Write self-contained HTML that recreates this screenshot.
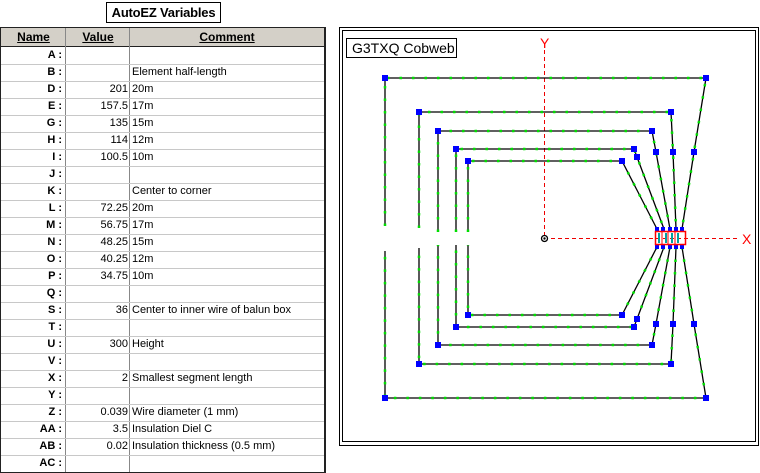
<!DOCTYPE html>
<html><head><meta charset="utf-8"><style>
body{margin:0;width:760px;height:473px;background:#fff;position:relative;overflow:hidden;font-family:"Liberation Sans",Arial,sans-serif;}
.title{position:absolute;left:106px;top:2px;width:113px;height:19px;border:1px solid #000;font-weight:bold;font-size:13px;text-align:center;line-height:19px;white-space:nowrap;letter-spacing:-0.2px;}
.tbl{position:absolute;left:0;top:27px;width:323px;height:444px;border:1px solid #222;border-width:1px 2px 1px 1px;}
.hdr{position:absolute;left:0;top:0;width:323px;height:18px;background:#d4d0c8;border-bottom:1px solid #222;font-weight:bold;font-size:12px;}
.hdr span{position:absolute;top:2px;text-decoration:underline;text-align:center;}
.row{position:absolute;left:0;width:323px;height:17px;border-bottom:1px solid #c8c8c8;font-size:11px;line-height:17px;}
.row .n{position:absolute;left:0;width:61px;text-align:right;font-weight:bold;}
.row .v{position:absolute;left:65px;width:62px;text-align:right;}
.row .c{position:absolute;left:131px;}
.vl{position:absolute;top:0;width:1px;height:444px;background:#888;}
</style></head><body>
<div class="title">AutoEZ Variables</div>
<div class="tbl">
<div class="hdr"><span style="left:0;width:65px">Name</span><span style="left:65px;width:64px">Value</span><span style="left:129px;width:194px">Comment</span></div>
<div class="vl" style="left:64px"></div><div class="vl" style="left:128px"></div>
<div class="row" style="top:19px"><span class="n">A :</span></div>
<div class="row" style="top:36px"><span class="n">B :</span><span class="c">Element half-length</span></div>
<div class="row" style="top:53px"><span class="n">D :</span><span class="v">201</span><span class="c">20m</span></div>
<div class="row" style="top:70px"><span class="n">E :</span><span class="v">157.5</span><span class="c">17m</span></div>
<div class="row" style="top:87px"><span class="n">G :</span><span class="v">135</span><span class="c">15m</span></div>
<div class="row" style="top:104px"><span class="n">H :</span><span class="v">114</span><span class="c">12m</span></div>
<div class="row" style="top:121px"><span class="n">I :</span><span class="v">100.5</span><span class="c">10m</span></div>
<div class="row" style="top:138px"><span class="n">J :</span></div>
<div class="row" style="top:155px"><span class="n">K :</span><span class="c">Center to corner</span></div>
<div class="row" style="top:172px"><span class="n">L :</span><span class="v">72.25</span><span class="c">20m</span></div>
<div class="row" style="top:189px"><span class="n">M :</span><span class="v">56.75</span><span class="c">17m</span></div>
<div class="row" style="top:206px"><span class="n">N :</span><span class="v">48.25</span><span class="c">15m</span></div>
<div class="row" style="top:223px"><span class="n">O :</span><span class="v">40.25</span><span class="c">12m</span></div>
<div class="row" style="top:240px"><span class="n">P :</span><span class="v">34.75</span><span class="c">10m</span></div>
<div class="row" style="top:257px"><span class="n">Q :</span></div>
<div class="row" style="top:274px"><span class="n">S :</span><span class="v">36</span><span class="c">Center to inner wire of balun box</span></div>
<div class="row" style="top:291px"><span class="n">T :</span></div>
<div class="row" style="top:308px"><span class="n">U :</span><span class="v">300</span><span class="c">Height</span></div>
<div class="row" style="top:325px"><span class="n">V :</span></div>
<div class="row" style="top:342px"><span class="n">X :</span><span class="v">2</span><span class="c">Smallest segment length</span></div>
<div class="row" style="top:359px"><span class="n">Y :</span></div>
<div class="row" style="top:376px"><span class="n">Z :</span><span class="v">0.039</span><span class="c">Wire diameter (1 mm)</span></div>
<div class="row" style="top:393px"><span class="n">AA :</span><span class="v">3.5</span><span class="c">Insulation Diel C</span></div>
<div class="row" style="top:410px"><span class="n">AB :</span><span class="v">0.02</span><span class="c">Insulation thickness (0.5 mm)</span></div>
<div class="row" style="top:427px;border-bottom:none"><span class="n">AC :</span></div>
</div>
<svg style="position:absolute;left:0;top:0" width="760" height="473" font-family="Liberation Sans, Arial, sans-serif">
<rect x="339.5" y="27.5" width="419" height="418" fill="none" stroke="#000"/>
<rect x="342.5" y="30.5" width="413" height="411" fill="none" stroke="#000"/>
<rect x="346.5" y="38.5" width="110" height="19" fill="#fff" stroke="#000"/>
<text x="352" y="53" font-size="14">G3TXQ Cobweb</text>
<g stroke="#e00" stroke-width="1" stroke-dasharray="4 3" fill="none">
<line x1="544.5" y1="50" x2="544.5" y2="238"/>
<line x1="544" y1="238.5" x2="740" y2="238.5"/>
</g>
<text x="540" y="48" font-size="14" fill="#f00">Y</text>
<text x="742" y="244" font-size="14" fill="#f00">X</text>
<g fill="none" stroke="#000" stroke-width="1.3">
<path d="M385,226V78H706L694,152L682,229M682,247L694,324L706,398H385V251"/>
<path d="M419,228V112H671L673,152L676,229M676,247L673,324L671,364H419V248"/>
<path d="M438,232V131H652L656,152L670,229M670,247L656,324L652,345H438V245"/>
<path d="M456,232V149H634L637,157L664,229M664,247L637,319L634,327H456V245"/>
<path d="M468,232V161H622L657,229M657,247L622,315H468V245"/>
</g>
<g fill="none" stroke="#0d0" stroke-width="2.5" stroke-dasharray="2.5 10">
<path d="M385,226V78H706L694,152L682,229M682,247L694,324L706,398H385V251"/>
<path d="M419,228V112H671L673,152L676,229M676,247L673,324L671,364H419V248"/>
<path d="M438,232V131H652L656,152L670,229M670,247L656,324L652,345H438V245"/>
<path d="M456,232V149H634L637,157L664,229M664,247L637,319L634,327H456V245"/>
<path d="M468,232V161H622L657,229M657,247L622,315H468V245"/>
</g>
<g fill="#00f">
<rect x="382" y="75" width="6" height="6"/><rect x="703" y="75" width="6" height="6"/><rect x="691" y="149" width="6" height="6"/>
<rect x="382" y="395" width="6" height="6"/><rect x="703" y="395" width="6" height="6"/><rect x="691" y="321" width="6" height="6"/>
<rect x="416" y="109" width="6" height="6"/><rect x="668" y="109" width="6" height="6"/><rect x="670" y="149" width="6" height="6"/>
<rect x="416" y="361" width="6" height="6"/><rect x="668" y="361" width="6" height="6"/><rect x="670" y="321" width="6" height="6"/>
<rect x="435" y="128" width="6" height="6"/><rect x="649" y="128" width="6" height="6"/><rect x="653" y="149" width="6" height="6"/>
<rect x="435" y="342" width="6" height="6"/><rect x="649" y="342" width="6" height="6"/><rect x="653" y="321" width="6" height="6"/>
<rect x="453" y="146" width="6" height="6"/><rect x="631" y="146" width="6" height="6"/><rect x="634" y="154" width="6" height="6"/>
<rect x="453" y="324" width="6" height="6"/><rect x="631" y="324" width="6" height="6"/><rect x="634" y="316" width="6" height="6"/>
<rect x="465" y="158" width="6" height="6"/><rect x="619" y="158" width="6" height="6"/>
<rect x="465" y="312" width="6" height="6"/><rect x="619" y="312" width="6" height="6"/>
<rect x="655" y="227" width="4" height="4"/><rect x="661" y="227" width="4" height="4"/><rect x="668" y="227" width="4" height="4"/><rect x="674" y="227" width="4" height="4"/><rect x="680" y="227" width="4" height="4"/>
<rect x="655" y="245" width="4" height="4"/><rect x="661" y="245" width="4" height="4"/><rect x="668" y="245" width="4" height="4"/><rect x="674" y="245" width="4" height="4"/><rect x="680" y="245" width="4" height="4"/>
</g>
<g stroke="#00a0a0" stroke-width="2"><line x1="659" y1="233" x2="659" y2="243"/><line x1="666" y1="233" x2="666" y2="243"/><line x1="672" y1="233" x2="672" y2="243"/><line x1="678" y1="233" x2="678" y2="243"/></g>
<rect x="655.5" y="231.5" width="30" height="13" fill="none" stroke="#f00" stroke-width="1.5"/>
<g stroke="#f00" stroke-width="1"><line x1="662" y1="232" x2="662" y2="244"/><line x1="668" y1="232" x2="668" y2="244"/><line x1="675" y1="232" x2="675" y2="244"/></g>
<circle cx="544.5" cy="238.5" r="3" fill="#fff" stroke="#000" stroke-width="1.3"/>
<circle cx="544.5" cy="238.5" r="1.2" fill="#000"/>
</svg>
</body></html>
